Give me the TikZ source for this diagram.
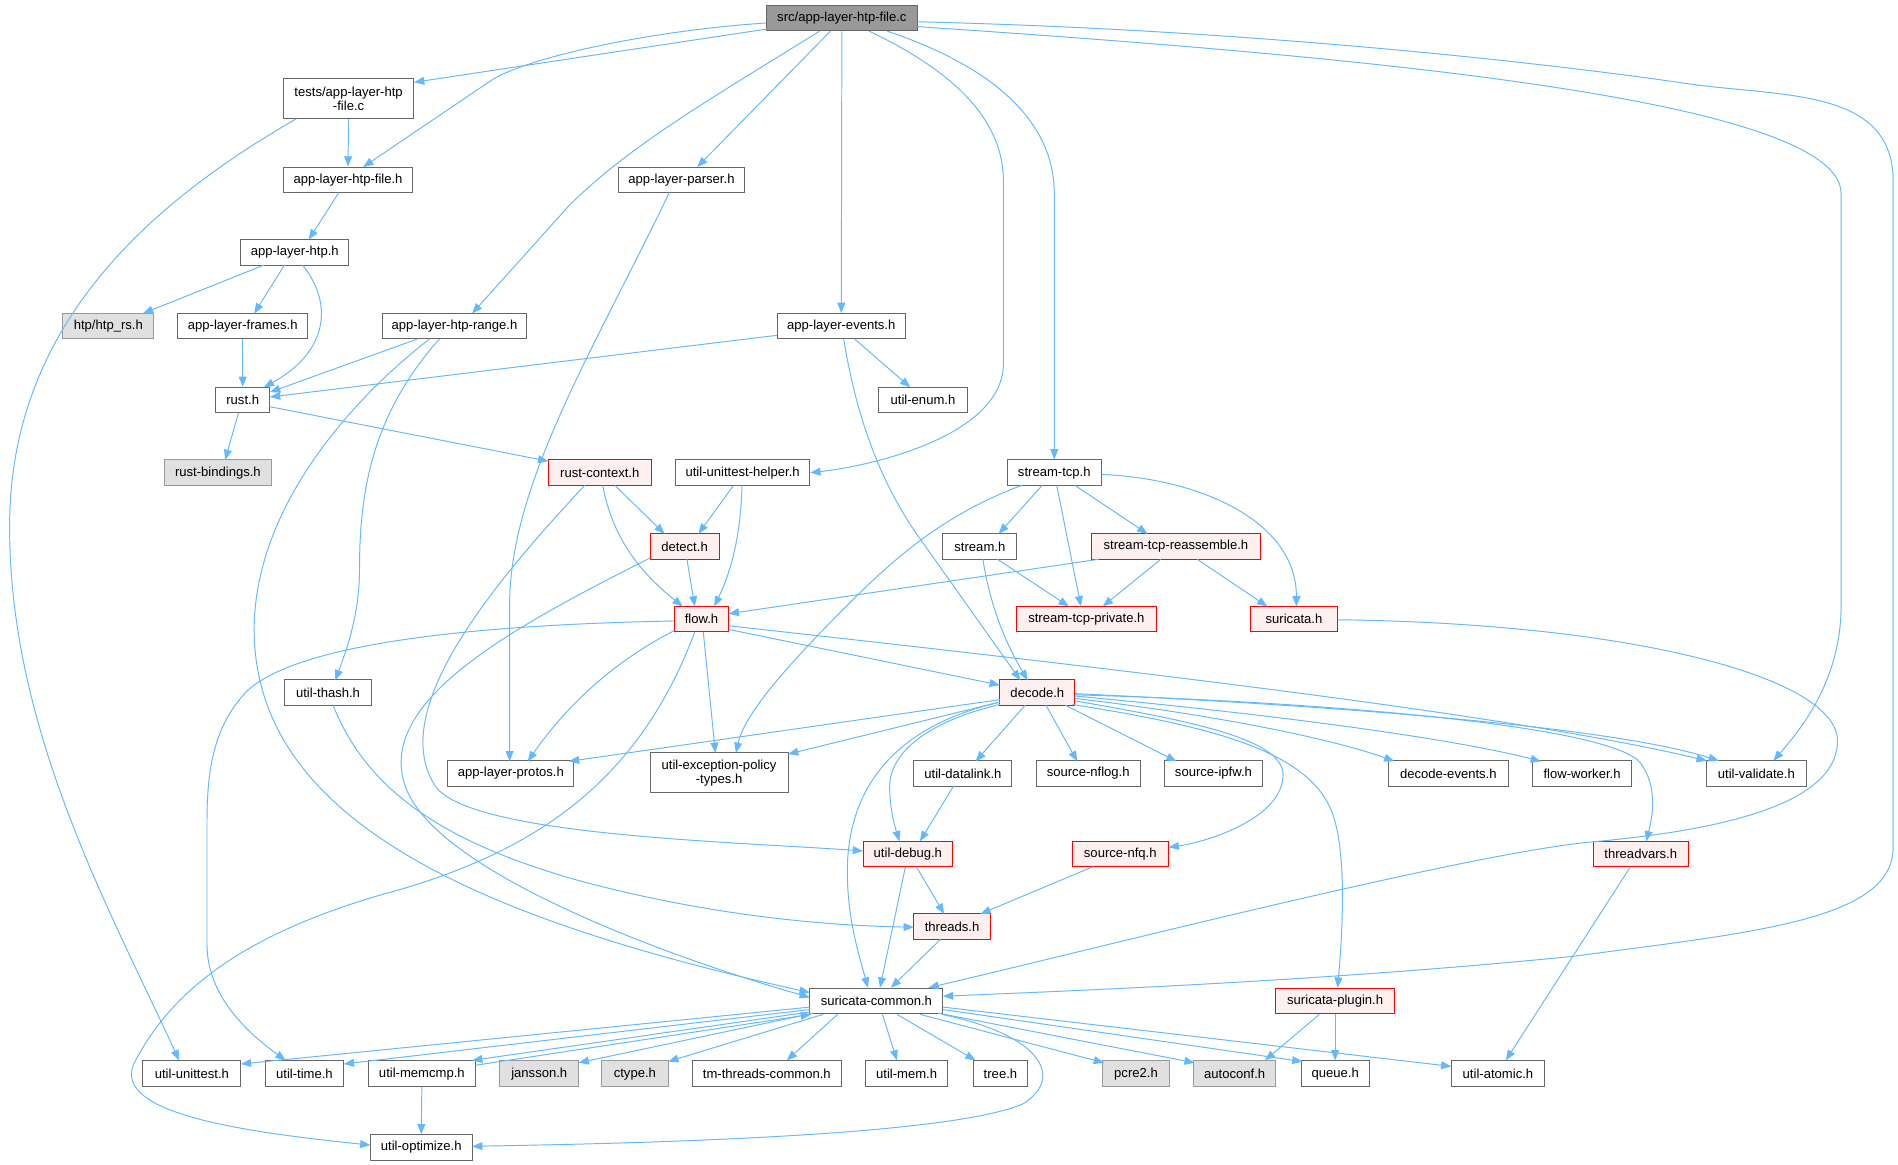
\documentclass[tikz,border=0pt]{standalone}
\usepackage{fontspec}
\setmainfont{Liberation Sans}
\usetikzlibrary{arrows.meta,calc}
\definecolor{edgec}{HTML}{63B8FF}
\definecolor{ndborder}{HTML}{666666}
\definecolor{redborder}{HTML}{FF0000}
\definecolor{redfill}{HTML}{FFF0F0}
\definecolor{extfill}{HTML}{E0E0E0}
\definecolor{extborder}{HTML}{999999}
\definecolor{rootfill}{HTML}{999999}
\tikzset{
  nd/.style={draw=ndborder, fill=white, line width=0.8pt, minimum height=21pt, inner sep=0pt,
    font=\fontsize{10.8}{11.6}\selectfont, text=black},
  rootnd/.style={nd, fill=rootfill},
  rednd/.style={nd, draw=redborder, fill=redfill},
  extnd/.style={nd, draw=extborder, fill=extfill},
  twoline/.style={align=center, minimum height=33pt},
  e/.style={draw=edgec, line width=0.8pt, -{Triangle[length=8.5pt,width=6.5pt]}}
}
\begin{document}
\begin{tikzpicture}[x=1pt,y=-1pt]
\fill[white] (0,0) rectangle (1568,962.4);
\useasboundingbox (0,0) rectangle (1568,962.4);

% nodes
\node[rootnd, minimum width=125pt] (src) at (695.5,15) {src/app-layer-htp-file.c};
\node[nd, twoline, minimum width=108pt] (tests) at (288,81.5) {tests/app-layer-htp\\-file.c};
\node[nd, minimum width=107pt] (htpfile) at (287.5,148.5) {app-layer-htp-file.h};
\node[nd, minimum width=104pt] (parser) at (563,148.5) {app-layer-parser.h};
\node[nd, minimum width=89pt] (htp) at (243.5,208.5) {app-layer-htp.h};
\node[extnd, minimum width=75pt] (htprs) at (89.5,269.5) {htp/htp\_rs.h};
\node[nd, minimum width=107pt] (frames) at (200.5,269.5) {app-layer-frames.h};
\node[nd, minimum width=119pt] (range) at (375.5,269.5) {app-layer-htp-range.h};
\node[nd, minimum width=106pt] (events) at (695,269.5) {app-layer-events.h};
\node[nd, minimum width=45pt] (rust) at (200.5,330.5) {rust.h};
\node[nd, minimum width=73pt] (enum) at (762.5,330.5) {util-enum.h};
\node[extnd, minimum width=88pt] (bindings) at (180,390.5) {rust-bindings.h};
\node[rednd, minimum width=85pt] (rustctx) at (495.5,390.5) {rust-context.h};
\node[nd, minimum width=111pt] (unithelper) at (613.5,390.5) {util-unittest-helper.h};
\node[nd, minimum width=78pt] (streamtcp) at (871,390.5) {stream-tcp.h};
\node[rednd, minimum width=57pt] (detect) at (565.5,451.5) {detect.h};
\node[nd, minimum width=61pt] (stream) at (809.5,451.5) {stream.h};
\node[rednd, minimum width=139pt] (streasm) at (971.5,451.5) {stream-tcp-reassemble.h};
\node[rednd, minimum width=45pt] (flow) at (579.5,511.5) {flow.h};
\node[rednd, minimum width=115pt] (stcpprivate) at (897.5,511.5) {stream-tcp-private.h};
\node[rednd, minimum width=72pt] (suricata) at (1069,511.5) {suricata.h};
\node[nd, minimum width=72pt] (thash) at (271,572) {util-thash.h};
\node[rednd, minimum width=62pt] (decode) at (857,572) {decode.h};
\node[nd, minimum width=104pt] (protos) at (422,639) {app-layer-protos.h};
\node[nd, twoline, minimum width=114pt] (excpol) at (594,638.5) {util-exception-policy\\-types.h};
\node[nd, minimum width=81pt] (datalink) at (795.5,639) {util-datalink.h};
\node[nd, minimum width=86pt] (nflog) at (899,639) {source-nflog.h};
\node[nd, minimum width=81pt] (ipfw) at (1002.5,639) {source-ipfw.h};
\node[nd, minimum width=99pt] (devents) at (1196.5,639) {decode-events.h};
\node[nd, minimum width=82pt] (fworker) at (1307,639) {flow-worker.h};
\node[nd, minimum width=82pt] (validate) at (1451,639) {util-validate.h};
\node[rednd, minimum width=74pt] (debug) at (750,705.5) {util-debug.h};
\node[rednd, minimum width=79pt] (nfq) at (925.5,705.5) {source-nfq.h};
\node[rednd, minimum width=79pt] (threadvars) at (1355.5,705.5) {threadvars.h};
\node[rednd, minimum width=63pt] (threads) at (786.5,765.5) {threads.h};
\node[nd, minimum width=110pt] (common) at (724,827) {suricata-common.h};
\node[rednd, minimum width=98pt] (plugin) at (1103,827) {suricata-plugin.h};
\node[nd, minimum width=81pt] (unittest) at (158.5,887) {util-unittest.h};
\node[nd, minimum width=65pt] (time) at (251.5,887) {util-time.h};
\node[nd, minimum width=89pt] (memcmp) at (348.5,887) {util-memcmp.h};
\node[extnd, minimum width=65pt] (jansson) at (445.5,887) {jansson.h};
\node[extnd, minimum width=55pt] (ctype) at (524.5,887) {ctype.h};
\node[nd, minimum width=123pt] (tmthreads) at (633.5,887) {tm-threads-common.h};
\node[nd, minimum width=68pt] (mem) at (749,887) {util-mem.h};
\node[nd, minimum width=45pt] (tree) at (826.5,887) {tree.h};
\node[extnd, minimum width=55pt] (pcre2) at (938.5,887) {pcre2.h};
\node[extnd, minimum width=68pt] (autoconf) at (1020,887) {autoconf.h};
\node[nd, minimum width=56pt] (queue) at (1103,887) {queue.h};
\node[nd, minimum width=77pt] (atomic) at (1237.5,887) {util-atomic.h};
\node[nd, minimum width=84pt] (optimize) at (348,948) {util-optimize.h};

% edges from src
\draw[e] ($(src)+(-62,9)$) -- ($(tests)+(54,-13.5)$);
\draw[e] ($(src)+(-62.5,4)$) .. controls (540,25) and (435,47) .. (405,67) -- ($(htpfile)+(12.5,-10.5)$);
\draw[e] ($(src)+(-18.5,10.75)$) .. controls (590,80) and (520,120) .. (470,170) -- ($(range)+(14.5,-10.5)$);
\draw[e] ($(src)+(-9.5,10.75)$) -- ($(parser)+(13,-10.5)$);
\draw[e] (src.south) -- (events.north);
\draw[e] ($(src)+(22.5,10.75)$) .. controls (790,60) and (829,100) .. (829,150) -- (829,300) .. controls (829,360) and (720,385) .. (unithelper.east);
\draw[e] ($(src)+(37.5,10.75)$) .. controls (820,55) and (871,100) .. (871,160) -- (streamtcp.north);
\draw[e] ($(src)+(62.5,7)$) .. controls (1100,45) and (1521,80) .. (1521,160) -- (1521,500) .. controls (1521,560) and (1490,600) .. ($(validate)+(14,-10.5)$);
\draw[e] ($(src)+(62.5,3)$) .. controls (1050,25) and (1300,55) .. (1400,70) .. controls (1480,80) and (1564,75) .. (1564,150) -- (1564,700) .. controls (1564,760) and (1450,770) .. (1300,790) .. controls (1100,810) and (900,818) .. ($(common)+(55,-4)$);

% tests
\draw[e] (tests.south) -- (htpfile.north);
\draw[e] ($(tests)+(-43,16.5)$) .. controls (120,170) and (10,270) .. (8,430) .. controls (6,600) and (90,750) .. ($(unittest)+(-10.5,-11)$);
% htpfile, parser
\draw[e] ($(htpfile)+(-7.5,10.5)$) -- ($(htp)+(11.5,-10.5)$);
\draw[e] ($(parser)+(-10,10.5)$) .. controls (490,290) and (421,400) .. (421,500) -- ($(protos)+(-1,-10)$);
% htp
\draw[e] ($(htp)+(-25.5,10.5)$) -- ($(htprs)+(28.5,-10.5)$);
\draw[e] ($(htp)+(-8.5,10.5)$) -- ($(frames)+(9.5,-10.5)$);
\draw[e] ($(htp)+(6.5,10.5)$) .. controls (275,250) and (272,290) .. ($(rust)+(17.5,-10.5)$);
\draw[e] (frames.south) -- (rust.north);
% range
\draw[e] ($(range)+(-30.5,10.5)$) -- ($(rust)+(22.5,-6.5)$);
\draw[e] ($(range)+(-20.5,10.5)$) .. controls (290,330) and (210,420) .. (210,520) .. controls (210,680) and (400,760) .. ($(common)+(-55,-7)$);
\draw[e] ($(range)+(-12.5,10.5)$) .. controls (310,340) and (297,400) .. (297,470) .. controls (297,510) and (285,540) .. ($(thash)+(6,-10)$);
% events
\draw[e] ($(events)+(-53,7.5)$) -- ($(rust)+(22.5,-2.5)$);
\draw[e] ($(events)+(11,10.5)$) -- ($(enum)+(-10.5,-10.5)$);
\draw[e] ($(events)+(2,10.5)$) .. controls (710,360) and (735,410) .. (760,445) -- ($(decode)+(-14,-10)$);
% rust
\draw[e] ($(rust)+(-3.5,10.5)$) -- ($(bindings)+(6,-10.5)$);
\draw[e] ($(rust)+(22.5,5.5)$) -- ($(rustctx)+(-42.5,-9.5)$);
% rust-context
\draw[e] ($(rustctx)+(12.5,10.5)$) -- ($(detect)+(-16.5,-10.5)$);
\draw[e] ($(rustctx)+(2.5,10.5)$) .. controls (505,440) and (525,470) .. ($(flow)+(-15.5,-10.5)$);
\draw[e] ($(rustctx)+(-12.5,10.5)$) .. controls (400,490) and (320,590) .. (360,650) .. controls (390,690) and (600,695) .. ($(debug)+(-37,-2.5)$);
% unittest helper
\draw[e] ($(unithelper)+(-7.5,10.5)$) -- ($(detect)+(11.5,-10.5)$);
\draw[e] ($(unithelper)+(-0.5,10.5)$) .. controls (612,440) and (605,470) .. ($(flow)+(10.5,-10.5)$);
% detect
\draw[e] ($(detect)+(2,10.5)$) -- ($(flow)+(-5.5,-10.5)$);
\draw[e] ($(detect)+(-28.5,9.5)$) .. controls (420,520) and (310,580) .. (335,650) .. controls (360,720) and (550,790) .. ($(common)+(-55,-3)$);
% stream
\draw[e] ($(stream)+(14.5,10.5)$) -- ($(stcpprivate)+(-14.5,-10.5)$);
\draw[e] ($(stream)+(2.5,10.5)$) .. controls (818,500) and (830,530) .. ($(decode)+(-8,-10)$);
% stream-tcp
\draw[e] ($(streamtcp)+(-10,10.5)$) -- ($(stream)+(15.5,-10.5)$);
\draw[e] ($(streamtcp)+(17,10.5)$) -- ($(streasm)+(-23.5,-10.5)$);
\draw[e] ($(streamtcp)+(2,10.5)$) -- ($(stcpprivate)+(-4.5,-10.5)$);
\draw[e] ($(streamtcp)+(39,1.5)$) .. controls (990,395) and (1071,430) .. ($(suricata)+(2,-10.5)$);
\draw[e] ($(streamtcp)+(-27,10.5)$) .. controls (780,425) and (740,460) .. (700,500) .. controls (650,550) and (615,590) .. ($(excpol)+(14,-16.5)$);
% stream-tcp-reassemble
\draw[e] ($(streasm)+(-63.5,10.5)$) -- ($(flow)+(22.5,-4.5)$);
\draw[e] ($(streasm)+(-12.5,10.5)$) -- ($(stcpprivate)+(13.5,-10.5)$);
\draw[e] ($(streasm)+(17.5,10.5)$) -- ($(suricata)+(-22,-10.5)$);
% suricata
\draw[e] ($(suricata)+(36,0.5)$) .. controls (1350,515) and (1518,560) .. (1518,612) .. controls (1518,670) and (1400,688) .. (1310,696) .. controls (1200,708) and (900,785) .. ($(common)+(43,-11)$);
% flow
\draw[e] ($(flow)+(22.5,8.5)$) -- ($(decode)+(-31,-6)$);
\draw[e] ($(flow)+(-22.5,9.5)$) .. controls (510,545) and (470,580) .. ($(protos)+(14,-10)$);
\draw[e] ($(flow)+(1.5,10.5)$) -- ($(excpol)+(-3,-16.5)$);
\draw[e] ($(flow)+(22.5,5.5)$) .. controls (900,550) and (1250,590) .. ($(validate)+(-41,-10.5)$);
\draw[e] ($(flow)+(-22.5,1.5)$) .. controls (400,516) and (250,530) .. (205,570) .. controls (175,600) and (171,640) .. (171,680) -- (171,780) .. controls (171,820) and (200,850) .. ($(time)+(-15.5,-11)$);
\draw[e] ($(flow)+(-5.5,10.5)$) .. controls (530,640) and (450,700) .. (330,735) .. controls (200,770) and (140,820) .. (110,880) .. controls (95,920) and (200,935) .. ($(optimize)+(-42,-2)$);
% thash
\draw[e] ($(thash)+(4,10)$) .. controls (305,660) and (380,700) .. (480,728) .. controls (600,760) and (700,765) .. ($(threads)+(-31.5,0.5)$);
% decode
\draw[e] ($(decode)+(-31,6)$) -- ($(protos)+(48,-10)$);
\draw[e] ($(decode)+(-31,8)$) -- ($(excpol)+(57,-15.5)$);
\draw[e] ($(decode)+(-10,10.5)$) -- ($(datalink)+(10.5,-10)$);
\draw[e] ($(decode)+(7,10.5)$) -- ($(nflog)+(-9,-10)$);
\draw[e] ($(decode)+(23,10.5)$) -- ($(ipfw)+(-30.5,-10)$);
\draw[e] ($(decode)+(31,5)$) .. controls (1000,590) and (1100,610) .. ($(devents)+(-44.5,-10)$);
\draw[e] ($(decode)+(31,3)$) .. controls (1050,590) and (1200,610) .. ($(fworker)+(-34,-10)$);
\draw[e] ($(decode)+(31,1)$) .. controls (1100,583) and (1330,600) .. ($(validate)+(-31,-10.5)$);
\draw[e] ($(decode)+(31,2)$) .. controls (1100,580) and (1330,600) .. (1355,630) .. controls (1370,650) and (1365,675) .. ($(threadvars)+(4.5,-10.5)$);
\draw[e] ($(decode)+(31,7)$) .. controls (980,595) and (1060,610) .. (1060,640) .. controls (1060,675) and (1000,695) .. ($(nfq)+(40,-5.5)$);
\draw[e] ($(decode)+(29,10)$) .. controls (1000,600) and (1080,620) .. (1100,670) .. controls (1112,700) and (1110,760) .. ($(plugin)+(2,-11)$);
\draw[e] ($(decode)+(-31,10)$) .. controls (770,595) and (735,620) .. (735,650) .. controls (735,670) and (740,685) .. ($(debug)+(-7,-10.5)$);
\draw[e] ($(decode)+(-31,8)$) .. controls (740,600) and (700,650) .. (700,720) .. controls (700,760) and (710,790) .. ($(common)+(-7,-11)$);
% lower
\draw[e] ($(datalink)+(-7.5,10)$) -- ($(debug)+(10,-10.5)$);
\draw[e] ($(debug)+(7,10.5)$) -- ($(threads)+(-6.5,-10.5)$);
\draw[e] ($(debug)+(-2,10.5)$) -- ($(common)+(3,-11)$);
\draw[e] ($(nfq)+(-22.5,10.5)$) -- ($(threads)+(23.5,-10.5)$);
\draw[e] ($(threads)+(-9.5,10.5)$) -- ($(common)+(12,-11)$);
\draw[e] ($(threadvars)+(-8.5,10.5)$) -- ($(atomic)+(6.5,-11)$);
\draw[e] ($(plugin)+(-13,11)$) -- ($(autoconf)+(25,-11)$);
\draw[e] (plugin.south) -- (queue.north);
% suricata-common
\draw[e] ($(common)+(-55,5)$) -- ($(unittest)+(40.5,-8)$);
\draw[e] ($(common)+(-55,7)$) -- ($(time)+(32.5,-8)$);
\draw[e] ($(common)+(-55,9)$) -- ($(memcmp)+(41.5,-11)$);
\draw[e] ($(memcmp)+(44.5,-7)$) -- ($(common)+(-54,11)$);
\draw[e] ($(common)+(-52,10)$) -- ($(jansson)+(32.5,-9)$);
\draw[e] ($(common)+(-44,11)$) -- ($(ctype)+(27.5,-10)$);
\draw[e] ($(common)+(-32,11)$) -- ($(tmthreads)+(16.5,-11)$);
\draw[e] ($(common)+(5,11)$) -- ($(mem)+(-8,-11)$);
\draw[e] ($(common)+(17,11)$) -- ($(tree)+(-20.5,-11)$);
\draw[e] ($(common)+(36,11)$) -- ($(pcre2)+(-26.5,-9)$);
\draw[e] ($(common)+(51,10)$) -- ($(autoconf)+(-33,-9)$);
\draw[e] ($(common)+(55,7)$) -- ($(queue)+(-27,-10)$);
\draw[e] ($(common)+(55,5)$) -- ($(atomic)+(-38.5,-6)$);
\draw[e] ($(common)+(54,11)$) .. controls (860,855) and (880,890) .. (845,912) .. controls (780,940) and (500,945) .. ($(optimize)+(42,-1)$);
\draw[e] (memcmp.south) -- (optimize.north);
\end{tikzpicture}
\end{document}
